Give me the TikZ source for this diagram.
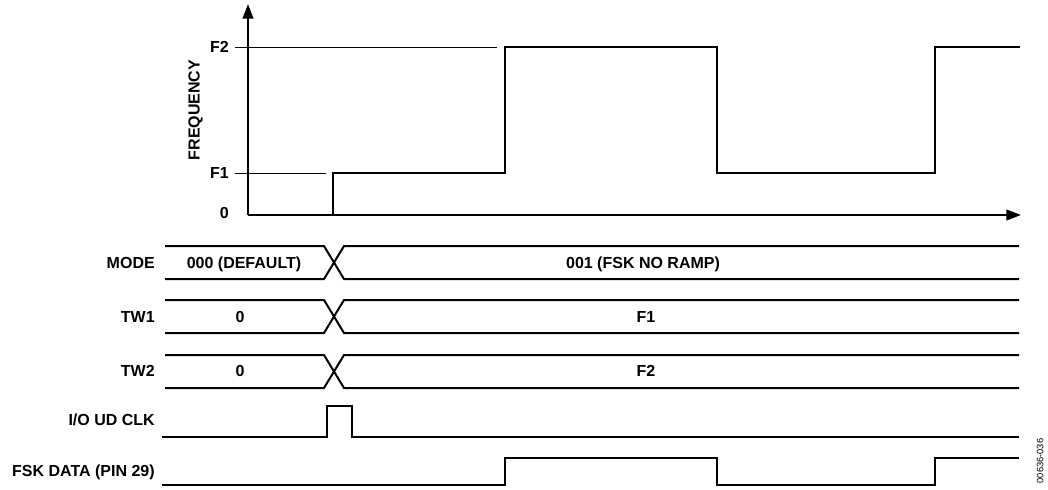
\documentclass[tikz,border=0pt]{standalone}
\usepackage{fontspec}
\setmainfont{Liberation Sans}
\usepackage{tikz}
\usetikzlibrary{arrows.meta}

\begin{document}
\begin{tikzpicture}[
    x=0.75pt, y=-0.75pt,
    every node/.style={font=\fontsize{12}{14}\selectfont\bfseries, inner sep=0pt, text height=8.6pt, text depth=0pt},
    wave/.style={line width=1.5pt, line join=miter},
    guide/.style={line width=0.75pt},
    axis/.style={line width=1.5pt, -{Triangle[length=11pt, width=8pt]}},
    siglabel/.style={anchor=east},
    figid/.style={rotate=90, font=\fontsize{7}{8}\selectfont, text height=5pt}
]
\useasboundingbox (0,0) rectangle (1048,489);

% Frequency axes
\coordinate (origin) at (248,215);
\coordinate (ytop) at (248,4);
\coordinate (xend) at (1021,215);
\draw[axis] (origin) -- (ytop);
\draw[axis] (origin) -- (xend);

% Levels
\node[siglabel] (f2) at (229,47) {F2};
\node[siglabel] (f1) at (229,173) {F1};
\node[siglabel] (zero) at (229,213) {0};
\node[rotate=90] (freq) at (194,110) {FREQUENCY};
\draw[guide] (235,47) -- (497,47);
\draw[guide] (235,173) -- (326,173);

% Output frequency
\draw[wave] (333,215) -- (333,173) -- (505,173) -- (505,47) -- (717,47) -- (717,173) -- (935,173) -- (935,47) -- (1020,47);

% MODE bus
\draw[wave] (165,246) -- (324,246) -- (344,279) -- (1019,279);
\draw[wave] (165,279) -- (324,279) -- (344,246) -- (1019,246);
\node[siglabel] (mode) at (155,263) {MODE};
\node (modeold) at (244,263) {000 (DEFAULT)};
\node (modenew) at (643,263) {001 (FSK NO RAMP)};

% TW1 bus
\draw[wave] (165,300) -- (324,300) -- (344,333) -- (1019,333);
\draw[wave] (165,333) -- (324,333) -- (344,300) -- (1019,300);
\node[siglabel] (tw1) at (155,317) {TW1};
\node (tw1old) at (240,317) {0};
\node (tw1new) at (646,317) {F1};

% TW2 bus
\draw[wave] (165,355) -- (324,355) -- (344,388) -- (1019,388);
\draw[wave] (165,388) -- (324,388) -- (344,355) -- (1019,355);
\node[siglabel] (tw2) at (155,371) {TW2};
\node (tw2old) at (240,371) {0};
\node (tw2new) at (646,371) {F2};

% Update clock
\draw[wave] (162,437) -- (327,437) -- (327,406) -- (352,406) -- (352,437) -- (1019,437);
\node[siglabel] (clk) at (155,420) {I/O UD CLK};

% FSK data pin
\draw[wave] (162,485) -- (505,485) -- (505,458) -- (717,458) -- (717,485) -- (935,485) -- (935,458) -- (1019,458);
\node[siglabel] (fsk) at (155,471) {FSK DATA (PIN 29)};

\node[figid] (figno) at (1040,461) {00636-036};

\end{tikzpicture}
\end{document}
